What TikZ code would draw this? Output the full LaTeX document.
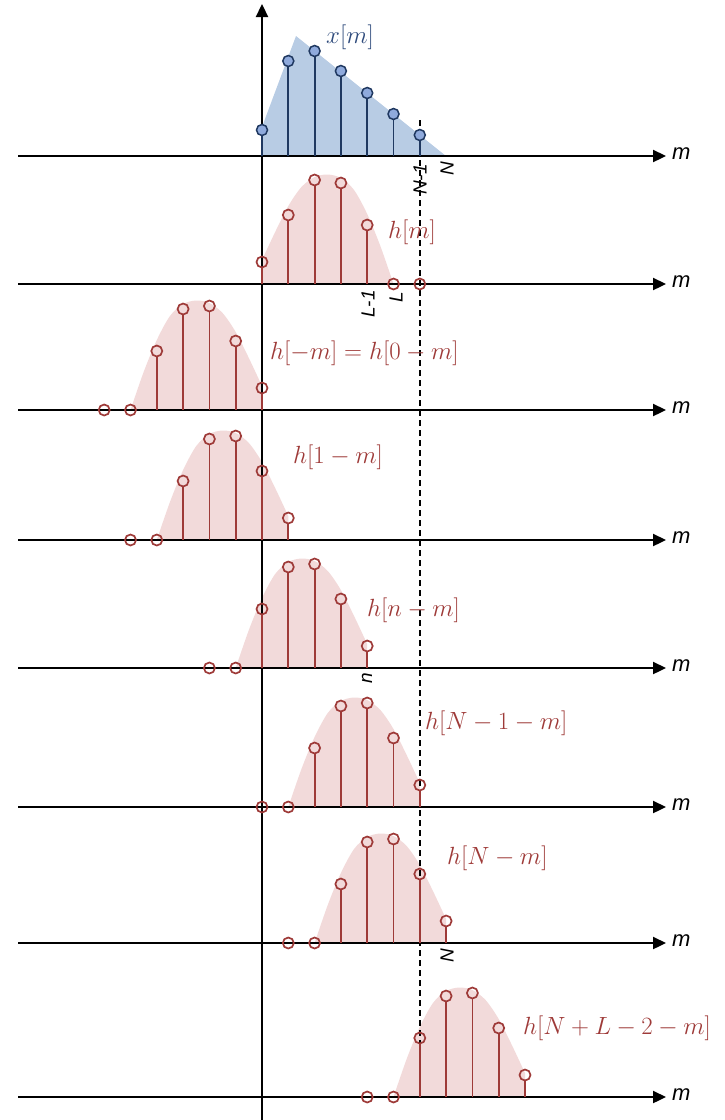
\documentclass[tikz,border=0pt]{standalone}
\usepackage{fontspec}
\setsansfont{Liberation Sans}
\usetikzlibrary{arrows.meta}
\definecolor{hred}{RGB}{158,58,56}
\definecolor{hpink}{RGB}{242,218,218}
\definecolor{xblue}{RGB}{184,204,228}
\definecolor{xnavy}{RGB}{31,56,96}
\definecolor{xdot}{RGB}{143,170,220}
\definecolor{xlab}{RGB}{47,75,124}
\tikzset{
  axisline/.style={line width=2.3pt, -{Triangle[length=13pt,width=12pt]}},
  hstem/.style={hred, line width=1.8pt},
  hdot/.style={circle, draw=hred, line width=1.7pt, minimum size=11pt, inner sep=0pt},
  xstem/.style={xnavy, line width=1.8pt},
  xdotst/.style={circle, draw=xnavy, fill=xdot, line width=1.5pt, minimum size=11pt, inner sep=0pt},
  mlabel/.style={anchor=west, inner sep=0pt, font=\fontsize{22}{26}\selectfont\sffamily\itshape},
  hlabel/.style={anchor=west, inner sep=0pt, text=hred, font=\fontsize{24}{28}\selectfont},
  xlabel/.style={anchor=west, inner sep=0pt, text=xlab, font=\fontsize{24}{28}\selectfont},
  ticklab/.style={rotate=90, anchor=east, inner sep=0pt, font=\fontsize{19}{22}\selectfont\sffamily\itshape},
  guide/.style={black, line width=1.6pt, dash pattern=on 6pt off 4pt},
}
\newcommand{\hfillrow}[3]{% #1 axis y, #2 x of k=0, #3 step (signed)
  \begin{scope}[shift={(#2,#1)}, x=#3, y=1pt]
    \fill[hpink] (0,0) -- plot[smooth] coordinates {(0,24) (0.5,52) (1,78) (1.5,97) (2,107) (2.5,109.5) (3,106) (3.5,94) (4,70) (4.5,38) (5,0)} -- cycle;
  \end{scope}}
\newcommand{\hstemrow}[4]{% #1 axis y, #2 x of k=0, #3 step (signed), #4 name
  \begin{scope}[shift={(#2,#1)}, x=#3, y=1pt]
    \foreach \k/\v in {0/22,1/69,2/104,3/101,4/59} {
      \coordinate (#4-b\k) at (\k,0);
      \node[hdot] (#4-\k) at (\k,\v) {};
      \draw[hstem] (#4-b\k) -- (#4-\k.south);
    }
    \node[hdot] (#4-5) at (5,0) {};
    \node[hdot] (#4-6) at (6,0) {};
  \end{scope}}
\begin{document}
\begin{tikzpicture}[x=1pt, y=-1pt]
\useasboundingbox (0,0) rectangle (724,1120);
% fills
\fill[xblue] (262,156) -- (262,127) -- (296,36) -- (446,156) -- cycle;
\hfillrow{284}{262}{26.3pt}
\hfillrow{410}{262}{-26.3pt}
\hfillrow{540}{288.3}{-26.3pt}
\hfillrow{668}{367.2}{-26.3pt}
\hfillrow{807}{419.8}{-26.3pt}
\hfillrow{943}{446.1}{-26.3pt}
\hfillrow{1097}{525}{-26.3pt}
% dashed guide
\coordinate (g1) at (419.8,120);
\coordinate (g2) at (419.8,1097);
\draw[guide] (g1) -- (g2);
% axes
\foreach \y [count=\i] in {156,284,410,540,668,807,943,1097} {
  \coordinate (al\i) at (18,\y);
  \coordinate (ar\i) at (666,\y);
  \draw[axisline] (al\i) -- (ar\i);
  \node[mlabel] (m\i) at (672,\y-2.5) {m};
}
\coordinate (vb) at (262,1120);
\coordinate (vt) at (262,4);
\draw[axisline] (vb) -- (vt);
% x[m]
\foreach \v [count=\i from 0] in {130,61,51,71,93,114,135} {
  \coordinate (xb\i) at (262+26.3*\i,156);
  \node[xdotst] (x\i) at (262+26.3*\i,\v) {};
  \draw[xstem] (xb\i) -- (x\i.south);
}
% h rows
\hstemrow{284}{262}{26.3pt}{r1}
\hstemrow{410}{262}{-26.3pt}{r2}
\hstemrow{540}{288.3}{-26.3pt}{r3}
\hstemrow{668}{367.2}{-26.3pt}{r4}
\hstemrow{807}{419.8}{-26.3pt}{r5}
\hstemrow{943}{446.1}{-26.3pt}{r6}
\hstemrow{1097}{525}{-26.3pt}{r7}
% labels
\node[xlabel] (lx) at (326,37) {$x[m]$};
\node[hlabel] (l1) at (388,232) {$h[m]$};
\node[hlabel] (l2) at (270,353) {$h[-m]=h[0-m]$};
\node[hlabel] (l3) at (293,457) {$h[1-m]$};
\node[hlabel] (l4) at (367,610) {$h[n-m]$};
\node[hlabel] (l5) at (425,723) {$h[N-1-m]$};
\node[hlabel] (l6) at (447,858) {$h[N-m]$};
\node[hlabel] (l7) at (523,1028) {$h[N+L-2-m]$};
% tick labels
\node[ticklab] (t1) at (420,164) {N-1};
\node[ticklab] (t2) at (447,162) {N};
\node[ticklab] (t3) at (368,290) {L-1};
\node[ticklab] (t4) at (396,292) {L};
\node[ticklab] (t5) at (367,673) {n};
\node[ticklab] (t6) at (447,949) {N};
\end{tikzpicture}
\end{document}
